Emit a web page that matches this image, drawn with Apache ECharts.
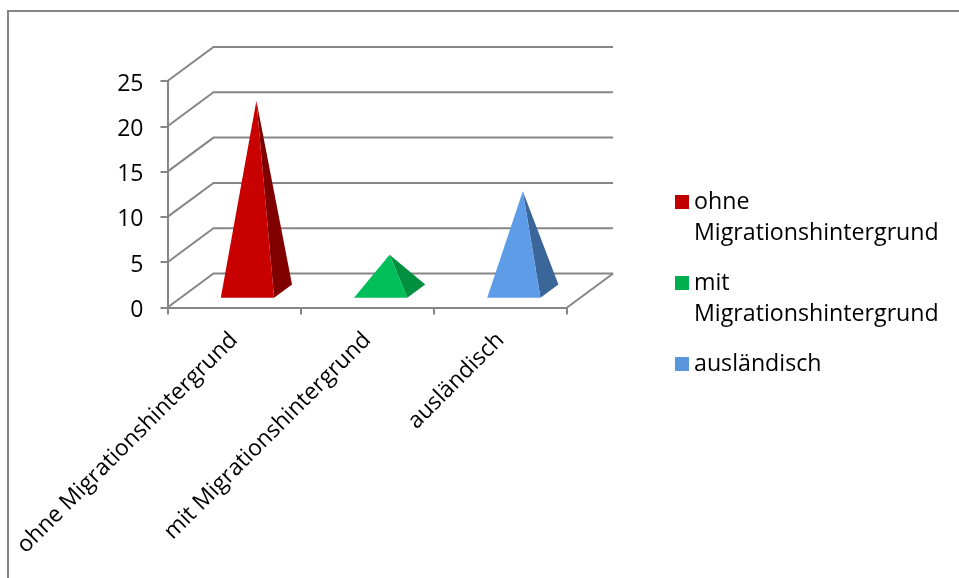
<!DOCTYPE html>
<html>
<head>
<meta charset="utf-8">
<style>html,body{margin:0;padding:0;background:#fff}#chart{width:959px;height:578px}</style>
<script src="https://cdn.jsdelivr.net/npm/echarts@6/dist/echarts.min.js"></script>
</head>
<body>
<div id="chart"></div>
<script>
// Chart content
const categories = ['ohne Migrationshintergrund', 'mit Migrationshintergrund', 'ausländisch'];
const values = [21, 4, 11];
const wallTicks = [0, 5, 10, 15, 20, 25];
// The leading blank line keeps each legend marker level with the first visible line
const legendLabels = ['\nohne\nMigrationshintergrund', '\nmit\nMigrationshintergrund', '\nausländisch\n '];
const frontColors = ['#C80000', '#00BE5A', '#5F9CE8'];
const sideColors = ['#800000', '#009040', '#3B6699'];
const legendColors = ['#C00000', '#00B050', '#5B96DC'];

// Oblique projection of the pseudo 3D box
const DEPTH_X = 46, DEPTH_Y = -34;
const FRONT_T = 0.29, BACK_T = 0.68, HALF_BAND = 0.2;
const AXIS_COLOR = '#868686';
const FONT = '"Open Sans", Lato, sans-serif';

const chart = echarts.init(document.getElementById('chart'));

// Back wall, floor edge and side rungs for each value tick
function renderWall(params, api) {
  const cs = params.coordSys;
  const y = api.coord([0, api.value(0)])[1];
  const style = { stroke: AXIS_COLOR, lineWidth: 2, fill: null };
  const children = [{
    type: 'polyline',
    shape: { points: [[cs.x, y], [cs.x + DEPTH_X, y + DEPTH_Y], [cs.x + cs.width + DEPTH_X, y + DEPTH_Y]] },
    style
  }];
  if (api.value(0) === 0) {
    children.push({
      type: 'line',
      shape: { x1: cs.x + cs.width, y1: y, x2: cs.x + cs.width + DEPTH_X, y2: y + DEPTH_Y },
      style
    });
  }
  return { type: 'group', children };
}

// Pyramid with a visible front face and right face
function renderPyramid(seriesIndex) {
  return function (params, api) {
    const base = api.coord([api.value(0), 0]);
    const top = api.coord([api.value(0), api.value(1)]);
    const half = api.size([1, 0])[0] * HALF_BAND;
    const at = (dx, t) => [base[0] + dx + DEPTH_X * t, base[1] + DEPTH_Y * t];
    const fl = at(-half, FRONT_T), fr = at(half, FRONT_T), br = at(half, BACK_T);
    const mid = (FRONT_T + BACK_T) / 2;
    const apex = [base[0] + DEPTH_X * mid, top[1] + DEPTH_Y * mid];
    return {
      type: 'group',
      children: [
        { type: 'polygon', shape: { points: [fr, br, apex] }, style: { fill: sideColors[seriesIndex] } },
        { type: 'polygon', shape: { points: [fl, fr, apex] }, style: { fill: frontColors[seriesIndex] } }
      ]
    };
  };
}

const pyramidSeries = categories.map((name, i) => ({
  name,
  type: 'custom',
  coordinateSystem: 'cartesian2d',
  clip: false,
  z: 5,
  encode: { x: 0, y: 1 },
  data: [[i, values[i]]],
  itemStyle: { color: legendColors[i] },
  renderItem: renderPyramid(i)
}));

chart.setOption({
  animation: false,
  backgroundColor: '#fff',
  graphic: [{
    type: 'rect',
    silent: true,
    shape: { x: 8, y: 11, width: 1200, height: 900 },
    style: { fill: null, stroke: AXIS_COLOR, lineWidth: 2 }
  }],
  grid: { left: 167.5, top: 81, width: 399.6, height: 226.5 },
  legend: {
    left: 675,
    top: 155.5,
    padding: 0,
    orient: 'vertical',
    icon: 'rect',
    itemWidth: 14,
    itemHeight: 14,
    itemGap: -12,
    selectedMode: false,
    data: categories,
    formatter: name => legendLabels[categories.indexOf(name)],
    textStyle: {
      fontFamily: FONT,
      fontSize: 23.2,
      lineHeight: 31,
      color: '#000'
    }
  },
  xAxis: {
    type: 'category',
    data: categories,
    axisLine: { show: true, lineStyle: { color: AXIS_COLOR, width: 2 } },
    axisTick: { show: true, length: 7, alignWithLabel: false, lineStyle: { color: AXIS_COLOR, width: 2 } },
    axisLabel: { interval: 0, rotate: 45, margin: 29, fontFamily: FONT, fontSize: 22.8, color: '#000' }
  },
  yAxis: {
    type: 'value',
    min: 0,
    max: 25,
    interval: 5,
    splitLine: { show: false },
    axisLine: { show: true, lineStyle: { color: AXIS_COLOR, width: 2 } },
    axisTick: { show: true, length: 7, lineStyle: { color: AXIS_COLOR, width: 2 } },
    axisLabel: {
      margin: 24,
      formatter: '{v|{value}}',
      rich: { v: { padding: [6, 0, 0, 0], fontFamily: FONT, fontSize: 23, color: '#000' } }
    }
  },
  series: [{
    type: 'custom',
    coordinateSystem: 'cartesian2d',
    clip: false,
    silent: true,
    z: 1,
    encode: { y: 0 },
    data: wallTicks.map(v => [v]),
    renderItem: renderWall
  }].concat(pyramidSeries)
});
</script>
</body>
</html>
